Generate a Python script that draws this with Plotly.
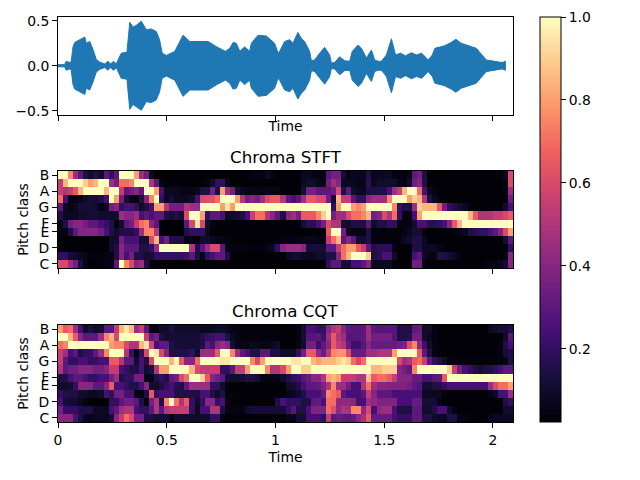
import plotly.graph_objects as go

# waveform envelope (seconds, amplitude)
env_time = [0,0.03,0.038,0.054,0.061,0.069,0.077,0.1,0.123,0.13,0.146,0.161,0.176,0.192,0.215,0.23,0.241,0.256,0.268,0.28,0.291,0.317,0.33,0.345,0.36,0.383,0.406,0.429,0.452,0.467,0.479,0.498,0.537,0.575,0.606,0.69,0.73,0.77,0.79,0.805,0.82,0.836,0.858,0.881,0.889,0.92,0.958,0.996,1.012,1.019,1.042,1.065,1.08,1.103,1.119,1.134,1.157,1.165,1.18,1.203,1.226,1.249,1.257,1.272,1.295,1.318,1.341,1.353,1.38,1.395,1.418,1.441,1.456,1.471,1.487,1.51,1.533,1.552,1.575,1.598,1.625,1.648,1.672,1.702,1.721,1.733,1.775,1.808,1.829,1.854,1.923,1.969,2.042,2.057]
env_amp = [0.012,0.012,0.05,0.035,0.05,0.21,0.26,0.29,0.32,0.25,0.27,0.18,0.07,0.04,0.02,0.05,0.02,0.05,0.02,0.085,0.14,0.15,0.485,0.43,0.45,0.495,0.40,0.41,0.38,0.29,0.14,0.115,0.16,0.34,0.27,0.27,0.21,0.16,0.195,0.26,0.25,0.16,0.21,0.16,0.25,0.34,0.33,0.25,0.14,0.16,0.27,0.29,0.25,0.37,0.305,0.27,0.16,0.055,0.065,0.14,0.205,0.12,0.03,0.035,0.10,0.055,0.05,0.16,0.23,0.195,0.085,0.175,0.065,0.05,0.05,0.12,0.30,0.12,0.14,0.11,0.145,0.12,0.14,0.065,0.12,0.195,0.22,0.26,0.295,0.25,0.195,0.065,0.035,0.05]

pitch_ticks = [0, 2, 4, 5, 7, 9, 11]
pitch_labels = ["C", "D", "E", "F", "G", "A", "B"]
duration = 2.092
n_frames = 90

# chroma energy in percent, one list per pitch class, 90 frames
stft_B = [100,100,75,45,30,15,10,15,10,30,20,30,100,100,100,80,45,35,8,3,3,3,3,3,3,3,3,3,3,3,3,3,3,3,3,3,3,3,5,5,5,8,5,3,
 3,3,3,3,8,8,5,5,5,30,35,35,12,5,8,7,7,15,7,8,8,8,5,4,4,6,30,35,15,3,3,3,3,3,3,3,3,3,3,3,3,3,4,4,8,60]
stft_As = [55,85,100,100,100,90,80,85,100,100,45,35,70,70,75,100,100,100,50,30,5,3,3,3,3,3,3,3,3,5,10,20,20,8,3,3,3,3,3,3,3,3,3,3,
 3,3,3,3,8,10,10,7,6,35,45,40,8,8,7,6,6,18,8,10,10,10,10,6,5,10,35,40,15,3,3,3,3,3,3,3,3,3,3,3,3,3,3,3,5,60]
stft_A = [55,50,55,65,85,100,100,100,100,85,100,100,55,30,35,40,30,100,100,80,25,8,8,8,6,6,6,8,15,15,35,15,80,45,35,12,8,6,6,6,5,5,5,5,
 3,3,3,3,12,35,35,30,30,30,35,60,15,30,10,8,8,15,15,15,15,25,45,55,85,100,100,70,25,8,5,3,3,3,3,3,3,3,3,3,3,3,3,3,5,45]
stft_Gs = [70,25,4,4,6,10,12,12,15,25,100,80,35,12,5,5,15,40,75,100,20,8,12,8,8,8,10,25,60,62,62,70,100,100,100,80,50,35,40,35,45,60,65,65,
 50,30,25,30,45,65,65,60,60,35,10,85,55,55,30,20,20,40,45,45,45,75,100,100,100,80,90,85,50,15,8,5,3,3,3,3,3,3,3,3,3,3,3,3,4,35]
stft_G = [30,8,5,8,12,12,12,10,5,8,35,40,20,25,25,20,10,15,25,80,80,50,35,35,35,50,45,45,100,100,100,100,80,95,80,100,100,100,100,100,100,100,100,100,
 100,100,100,100,100,100,100,100,100,100,20,80,100,100,80,75,80,100,100,100,100,100,75,20,15,15,45,90,85,85,85,65,35,20,15,12,8,4,3,3,3,3,3,3,10,25]
stft_Fs = [15,8,8,8,10,10,12,12,10,10,10,10,45,40,40,45,25,30,25,30,30,15,12,15,12,60,100,100,80,20,30,30,25,8,10,12,15,25,55,70,70,50,40,30,
 15,40,45,35,65,65,65,75,90,100,35,45,45,60,70,70,75,85,35,40,60,50,70,20,5,5,25,80,100,100,100,100,100,100,100,100,100,85,65,50,50,50,55,55,60,65]
stft_F = [5,15,35,40,40,35,30,30,25,20,15,3,10,30,35,55,70,75,40,30,3,3,3,3,3,30,60,95,60,10,5,3,3,3,3,3,3,3,3,3,3,3,3,3,
 3,3,3,3,12,18,18,25,35,60,50,50,12,10,15,15,15,30,10,15,15,20,20,5,5,5,10,25,25,18,18,20,25,40,65,85,100,100,100,100,100,100,100,100,100,100]
stft_E = [5,5,15,30,40,40,40,40,35,25,15,10,15,15,15,20,45,75,75,50,3,3,3,3,3,15,20,20,20,8,3,3,3,3,3,3,3,3,3,3,3,3,3,3,
 3,3,3,3,3,3,3,3,3,65,100,100,35,8,6,5,5,15,4,4,4,4,4,4,5,8,12,12,4,3,3,3,3,3,3,5,8,15,18,20,20,25,30,40,60,80]
stft_Ds = [3,3,3,3,3,3,3,3,3,3,10,10,35,25,25,25,12,12,60,85,25,35,15,15,15,5,5,5,10,10,8,6,6,5,3,3,3,3,3,3,3,3,3,3,
 5,5,5,5,6,6,6,5,5,55,70,85,30,40,30,12,10,15,4,4,4,4,4,4,8,10,15,15,8,3,3,3,3,3,3,3,3,3,3,3,3,3,3,3,12,30]
stft_D = [3,3,3,3,3,3,3,3,3,3,10,15,40,30,30,30,15,15,20,45,100,100,100,100,100,100,50,15,30,45,60,60,30,5,5,5,5,4,4,4,4,5,8,20,
 40,45,45,45,40,12,12,12,12,30,30,55,70,80,80,65,55,30,15,18,18,18,5,3,3,3,15,15,8,8,8,6,4,3,3,3,3,3,3,3,3,3,3,3,3,20]
stft_Cs = [20,20,12,10,8,6,4,4,4,5,5,15,40,25,35,15,15,12,12,20,20,20,20,20,20,22,30,15,5,20,25,30,30,15,4,3,3,3,3,3,3,3,3,3,
 3,8,10,10,8,8,8,10,10,15,15,40,70,85,100,100,100,90,15,18,25,25,10,3,3,3,25,30,8,5,5,15,15,12,8,5,3,3,3,3,3,3,3,3,5,40]
stft_C = [60,60,45,35,15,6,3,3,4,5,5,30,100,75,60,40,45,15,5,3,3,3,3,3,3,3,3,3,3,3,3,3,3,3,3,3,3,3,3,3,3,3,3,3,
 3,3,3,3,3,3,3,3,3,20,30,30,12,12,25,25,30,40,8,8,8,8,4,3,3,3,35,35,4,3,3,3,3,3,3,3,3,3,3,3,5,5,6,8,12,40]

cqt_B = [80,65,70,45,25,10,15,10,12,30,30,55,85,95,85,45,55,30,5,4,10,10,15,10,10,10,10,10,8,8,8,10,10,8,5,5,4,4,4,4,4,4,4,4,
 3,3,4,5,12,25,25,20,20,40,50,55,40,30,28,28,30,45,30,28,28,28,28,15,15,15,30,32,10,10,5,3,3,3,3,3,3,3,3,3,3,8,10,12,12,15]
cqt_As = [100,100,85,65,40,30,30,30,45,75,85,60,100,100,100,100,100,55,30,35,15,10,12,12,12,12,12,12,15,20,22,25,25,15,8,5,4,4,4,4,4,4,4,4,
 3,3,3,4,12,28,28,30,22,45,65,50,45,28,28,28,30,45,35,35,35,35,28,15,15,18,35,35,10,8,5,3,3,3,3,3,3,3,3,3,3,3,3,3,10,30]
cqt_A = [70,75,100,100,100,100,100,100,100,100,80,75,75,60,50,50,85,95,60,25,30,30,15,12,12,12,12,12,15,30,25,40,45,40,12,6,6,6,8,8,6,6,8,10,
 3,3,3,6,10,35,35,22,30,40,65,55,50,32,22,22,28,40,32,32,32,32,32,35,38,62,75,42,22,10,5,3,3,3,3,3,3,3,3,3,3,3,3,5,15,25]
cqt_Gs = [55,45,25,30,15,20,20,30,45,75,100,100,100,50,20,5,20,60,100,95,60,40,15,15,15,15,20,10,45,45,45,65,100,100,75,45,30,25,15,15,30,30,15,15,
 10,10,10,20,35,65,65,42,32,52,75,78,78,60,32,32,32,45,45,50,50,50,80,100,100,100,100,65,30,15,5,4,3,3,3,3,3,3,3,3,3,3,3,5,12,15]
cqt_G = [55,30,20,20,25,25,20,20,25,25,65,65,50,30,30,10,25,15,60,100,100,100,85,100,65,40,40,70,100,100,100,100,95,95,100,100,100,100,75,60,80,100,100,100,
 100,100,95,95,100,100,85,80,85,85,85,90,95,90,70,60,70,100,100,100,100,100,100,60,45,50,65,70,55,30,20,15,10,5,4,4,4,4,4,4,4,4,4,4,5,15]
cqt_Fs = [50,30,35,35,40,40,40,35,35,40,55,55,25,20,15,15,25,10,15,50,80,80,100,100,100,100,85,60,55,55,55,55,20,20,30,55,55,80,100,100,100,75,50,50,
 60,80,100,100,90,90,100,100,100,100,100,100,100,100,100,100,100,100,85,85,90,90,90,40,35,30,75,100,100,100,100,100,100,90,55,35,25,20,15,12,15,15,20,25,30,30]
cqt_F = [15,15,25,30,30,25,20,20,25,25,35,45,15,20,20,35,35,5,5,15,20,15,30,35,60,70,100,100,90,65,40,35,30,12,10,10,12,15,15,12,5,5,5,5,
 10,15,20,22,28,32,40,40,50,80,85,80,55,55,55,50,50,88,65,70,70,65,55,40,40,40,32,32,25,25,28,30,65,100,100,100,100,100,100,100,100,100,100,100,100,100]
cqt_E = [10,10,12,20,40,40,40,30,30,40,65,25,25,20,15,15,25,40,10,10,15,20,25,18,15,30,45,45,45,45,20,20,10,4,4,3,3,3,3,3,3,3,3,3,
 3,10,12,15,25,30,30,32,38,50,75,45,45,35,25,25,50,70,45,40,40,38,38,38,38,35,30,28,12,12,15,15,20,25,25,25,25,25,25,25,25,45,60,70,70,80]
cqt_Ds = [20,15,15,15,10,10,8,8,10,25,20,35,35,25,25,5,5,15,65,20,25,25,25,15,15,15,15,15,25,25,15,10,15,4,4,3,3,3,3,3,3,3,3,3,
 3,6,8,10,15,25,25,25,32,75,70,65,30,25,25,25,30,55,40,30,30,30,25,25,25,25,25,25,8,8,8,8,4,3,3,3,3,3,3,3,3,5,8,25,25,45]
cqt_D = [25,12,10,10,8,5,3,3,3,3,20,20,30,35,35,30,15,4,35,50,15,75,100,70,50,65,20,10,20,40,40,20,25,5,4,3,3,3,3,3,3,3,3,15,
 25,20,20,20,15,15,30,32,25,70,70,42,42,42,40,25,25,45,42,38,38,38,38,25,25,25,32,32,12,12,12,5,3,3,3,3,3,3,3,3,3,3,3,3,15,20]
cqt_Cs = [35,20,20,20,15,15,15,8,8,8,25,30,45,50,50,25,20,20,30,50,30,50,55,55,55,55,20,8,25,25,50,50,15,5,5,5,5,10,12,12,12,12,12,12,
 12,20,28,15,15,25,38,38,38,70,62,42,50,48,75,75,42,60,25,42,45,45,25,15,15,15,30,30,10,10,15,25,25,10,5,3,3,3,3,3,3,3,3,3,10,10]
cqt_C = [40,40,40,25,15,8,6,8,8,8,12,40,55,70,60,35,35,15,15,12,12,12,5,10,10,10,10,10,10,10,20,20,5,3,3,3,3,3,3,3,3,3,3,3,
 3,6,6,12,12,25,25,25,20,55,30,32,30,30,32,42,48,65,32,32,32,32,25,20,20,20,30,30,15,15,10,8,8,15,15,5,5,4,3,3,3,6,8,8,8,8]

stft_rows = [stft_C, stft_Cs, stft_D, stft_Ds, stft_E, stft_F, stft_Fs, stft_G, stft_Gs, stft_A, stft_As, stft_B]
cqt_rows = [cqt_C, cqt_Cs, cqt_D, cqt_Ds, cqt_E, cqt_F, cqt_Fs, cqt_G, cqt_Gs, cqt_A, cqt_As, cqt_B]

W, H = 640, 480
L, R = 58, 513
def ydom(top, bottom):
    return [1 - bottom / H, 1 - top / H]

blue = "#1f77b4"
fig = go.Figure()
fig.add_trace(go.Scatter(
    x=env_time + env_time[::-1],
    y=env_amp + [-a for a in env_amp[::-1]],
    fill="toself", fillcolor=blue, mode="lines",
    line=dict(color=blue, width=1), xaxis="x", yaxis="y", hoverinfo="skip", showlegend=False))

dt = duration / n_frames
common = dict(colorscale="Magma", zmin=0.024, zmax=1.0, x0=dt / 2, dx=dt, y0=0, dy=1)
fig.add_trace(go.Heatmap(z=[[v / 100 for v in r] for r in stft_rows], xaxis="x2", yaxis="y2",
    colorbar=dict(x=540 / W, xanchor="left", xpad=0, ypad=0, y=1 - 422 / H, yanchor="bottom",
                  len=405 / H, lenmode="fraction", thickness=21, thicknessmode="pixels",
                  outlinecolor="black", outlinewidth=1, tick0=0.2, dtick=0.2, tickformat=".1f",
                  ticks="outside", ticklen=5, tickwidth=1, tickcolor="black",
                  tickfont=dict(size=13.9, color="black")),
    **common))
fig.add_trace(go.Heatmap(z=[[v / 100 for v in r] for r in cqt_rows], xaxis="x3", yaxis="y3",
    showscale=False, **common))

ax = dict(showgrid=False, zeroline=False, showline=True, mirror=True, linecolor="black", linewidth=1,
          ticks="outside", ticklen=5, tickwidth=1, tickcolor="black", automargin=False,
          tickfont=dict(size=13.9, color="black"))
xcommon = dict(ax, range=[0, duration], domain=[L / W, R / W], tickvals=[0, 0.5, 1, 1.5, 2],
               ticktext=["0", "0.5", "1", "1.5", "2"])
ycommon = dict(ax, range=[-0.5, 11.5], tickvals=pitch_ticks, ticktext=pitch_labels,
               title=dict(text="Pitch class", font=dict(size=13.9, color="black"), standoff=6))

fig.update_layout(
    width=W, height=H, margin=dict(l=0, r=0, t=0, b=0), autosize=False,
    paper_bgcolor="white", plot_bgcolor="white", showlegend=False,
    font=dict(family="DejaVu Sans", size=13.9, color="black"),
    xaxis=dict(xcommon, anchor="y", showticklabels=False,
               title=dict(text="Time", font=dict(size=13.9, color="black"), standoff=1)),
    yaxis=dict(ax, anchor="x", domain=ydom(16.5, 115), range=[-0.548, 0.548],
               tickvals=[-0.5, 0, 0.5], ticktext=["\u22120.5", "0.0", "0.5"]),
    xaxis2=dict(xcommon, anchor="y2", showticklabels=False),
    yaxis2=dict(ycommon, anchor="x2", domain=ydom(171, 268)),
    xaxis3=dict(xcommon, anchor="y3",
                title=dict(text="Time", font=dict(size=13.9, color="black"), standoff=5)),
    yaxis3=dict(ycommon, anchor="x3", domain=ydom(325, 422)),
    annotations=[
        dict(text="Chroma STFT", x=(L + R) / 2 / W, y=1 - 157 / H, xref="paper", yref="paper",
             showarrow=False, xanchor="center", yanchor="middle", font=dict(size=16.7, color="black")),
        dict(text="Chroma CQT", x=(L + R) / 2 / W, y=1 - 311 / H, xref="paper", yref="paper",
             showarrow=False, xanchor="center", yanchor="middle", font=dict(size=16.7, color="black")),
    ],
)
fig.write_html("out.html", post_script="document.body.style.margin='0';", config={"displayModeBar": False})
